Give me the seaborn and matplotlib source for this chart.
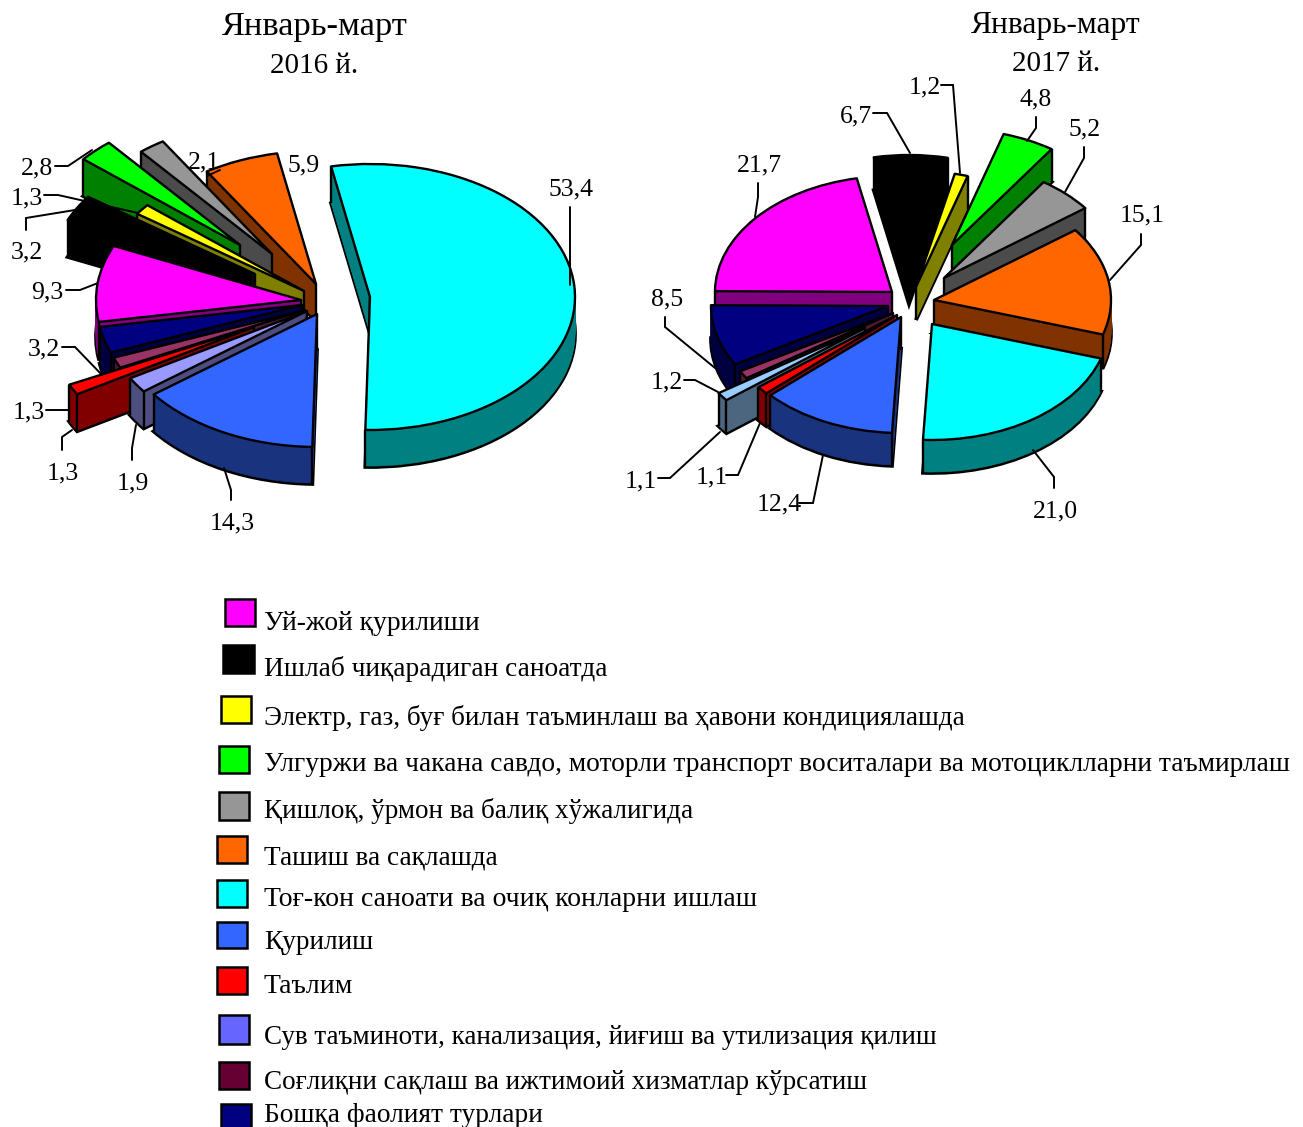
import matplotlib
matplotlib.use("Agg")
import matplotlib.pyplot as plt
import numpy as np
import seaborn as sns
from matplotlib.patches import Rectangle

W, H = 1303, 1127
sns.set_theme(style="white")
plt.rcParams['font.family'] = ['Liberation Serif', 'DejaVu Serif']

# ---- data -------------------------------------------------------------
values_2016 = [9.3, 3.2, 1.3, 2.8, 2.1, 5.9, 53.4, 14.3, 1.9, 1.3, 1.3, 3.2]
values_2017 = [21.7, 6.7, 1.2, 4.8, 5.2, 15.1, 21.0, 12.4, 1.1, 1.2, 1.1, 8.5]
top_2016 = ['#FF00FF', '#000000', '#FFFF00', '#00FF00', '#969696', '#FF6600', '#00FFFF', '#3366FF', '#9999FF', '#FF0000', '#993366', '#000080']
side_2016 = ['#800080', '#000000', '#808000', '#008000', '#4B4B4B', '#803300', '#008080', '#1A337F', '#4D4D80', '#800000', '#4D1A33', '#000040']
top_2017 = ['#FF00FF', '#000000', '#FFFF00', '#00FF00', '#969696', '#FF6600', '#00FFFF', '#3366FF', '#FF0000', '#99CCFF', '#993366', '#000080']
side_2017 = ['#800080', '#000000', '#808000', '#008000', '#4B4B4B', '#803300', '#008080', '#1A337F', '#800000', '#4D6680', '#4D1A33', '#000040']

legend_labels = ['Уй-жой қурилиши', 'Ишлаб чиқарадиган саноатда',
                 'Электр, газ, буғ билан таъминлаш ва ҳавони кондициялашда',
                 'Улгуржи ва чакана савдо, моторли транспорт воситалари ва мотоциклларни таъмирлаш',
                 'Қишлоқ, ўрмон ва балиқ хўжалигида', 'Ташиш ва сақлашда',
                 'Тоғ-кон саноати ва очиқ конларни ишлаш', 'Қурилиш', 'Таълим',
                 'Сув таъминоти, канализация, йиғиш ва утилизация қилиш',
                 'Соғлиқни сақлаш ва ижтимоий хизматлар кўрсатиш', 'Бошқа фаолият турлари']
legend_colors = ['#FF00FF', '#000000', '#FFFF00', '#00FF00', '#969696', '#FF6600',
                 '#00FFFF', '#3366FF', '#FF0000', '#6666FF', '#660033', '#000080']
legend_sizes = [19.9, 19.7, 19.55, 19.85, 19.5, 19.6, 19.95, 19.6, 19.95, 19.45, 19.55, 19.7]

# ---- layout (pixels) ---------------------------------------------------
tips_2016 = [(301, 300), (255, 274), (304, 291), (240, 245), (272, 254), (316, 284),
             (370, 297), (317, 314), (307, 311), (254, 327), (305, 310), (302, 305)]
order_2016 = [5, 4, 3, 2, 1, 0, 11, 10, 9, 8, 7, 6]
tips_2017 = [(892, 292), (909, 271), (916, 287), (952, 245), (944, 278), (934, 300),
             (932, 324), (901, 317), (897, 315), (865, 328), (893, 313), (888, 306)]
order_2017 = [1, 2, 3, 4, 5, 6, 0, 11, 10, 9, 8, 7]

legend_boxes = [(225, 599, 30, 27), (223, 645, 31, 28), (221, 696, 30, 27), (219, 746, 30, 27),
                (219, 792, 30, 28), (217, 836, 30, 27), (217, 880, 30, 27), (217, 922, 30, 26),
                (217, 967, 30, 27), (219, 1015, 30, 29), (219, 1062, 30, 27), (221, 1104, 30, 30)]
legend_base = [630, 676, 725, 771, 818, 864, 906, 949, 993, 1044, 1089, 1122]

labels = [('53,4', 571, 195), ('5,9', 304, 171), ('2,1', 204, 168), ('2,8', 37, 174), ('1,3', 27, 204),
          ('3,2', 27, 258), ('9,3', 47, 298), ('3,2', 44, 355), ('1,3', 29, 418), ('1,3', 63, 479),
          ('1,9', 133, 489), ('14,3', 232, 529),
          ('21,7', 759, 171), ('6,7', 856, 122), ('1,2', 925, 93), ('4,8', 1036, 105), ('5,2', 1085, 135),
          ('15,1', 1142, 221), ('21,0', 1055, 517), ('12,4', 779, 510), ('1,1', 641, 487), ('1,1', 712, 483),
          ('1,2', 667, 388), ('8,5', 667, 305)]
leaders = [[(570, 207), (570, 285)], [(220, 170), (207, 176)], [(55, 166), (68, 166), (92, 150)],
           [(44, 195), (58, 195), (138, 213)], [(26, 230), (26, 218), (75, 210)],
           [(66, 290), (80, 290), (98, 283)], [(62, 347), (75, 347), (102, 375)],
           [(46, 410), (68, 410)], [(62, 450), (62, 437), (72, 430)],
           [(132, 460), (132, 448), (136, 425)], [(231, 500), (231, 490), (224, 468)],
           [(758, 183), (758, 197), (755, 217)], [(873, 113), (887, 113), (910, 153)],
           [(941, 85), (953, 85), (960, 173)], [(1036, 117), (1036, 128), (1027, 141)],
           [(1084, 147), (1084, 158), (1065, 192)], [(1141, 234), (1141, 245), (1110, 280)],
           [(1054, 488), (1054, 477), (1033, 450)], [(799, 503), (813, 503), (823, 455)],
           [(658, 478), (670, 478), (720, 432)], [(726, 475), (738, 475), (760, 423)],
           [(684, 380), (695, 380), (718, 392)], [(665, 317), (665, 327), (715, 368)]]
LW = 1.7

fig = plt.figure(figsize=(W / 100, H / 100), dpi=100, facecolor='white')


def extruded_pie(values, tops, sides, tips, order, start, rx, ry, depth):
    ax = fig.add_axes([0, 0, 1, 1], facecolor='none')
    ax.axis('off')
    rank = {s: i for i, s in enumerate(order)}

    def to_data(px, py):
        return px / rx, (H - py) / ry

    # extrusion: one pie per pixel of depth, bottom layer first
    for d in range(depth, 0, -1):
        wedges, _ = ax.pie(values, startangle=start, counterclock=False, colors=sides,
                           normalize=True)
        for i, w in enumerate(wedges):
            w.set_center(to_data(tips[i][0], tips[i][1] + d))
            w.set_zorder(10 + rank[i] * 10 + (depth - d) * 0.01)
            if d == depth:
                w.set_edgecolor('black')
                w.set_linewidth(LW + 1.0)
            else:
                w.set_edgecolor(sides[i])
                w.set_linewidth(0.5)
    # top faces and the visible vertical edges below them
    wedges, _ = ax.pie(values, startangle=start, counterclock=False, colors=tops, normalize=True)
    for i, w in enumerate(wedges):
        cx, cy = to_data(*tips[i])
        w.set_center((cx, cy))
        w.set_zorder(10 + rank[i] * 10 + 5)
        w.set_edgecolor('black')
        w.set_linewidth(LW)
        w.set_joinstyle('round')
        t1, t2 = np.radians(w.theta1), np.radians(w.theta2)
        corners = []
        if np.cos(t1) > 0 or np.cos(t2) < 0:
            corners.append((cx, cy))
        if np.cos(t1) > 0 or np.sin(t1) < 0:
            corners.append((cx + np.cos(t1), cy + np.sin(t1)))
        if np.cos(t2) < 0 or np.sin(t2) < 0:
            corners.append((cx + np.cos(t2), cy + np.sin(t2)))
        for x0, y0 in corners:
            ax.plot([x0, x0], [y0, y0 - depth / ry], color='black', lw=LW,
                    zorder=10 + rank[i] * 10 + 4, solid_capstyle='butt')
    ax.set_aspect('auto')
    ax.set_xlim(0, W / rx)
    ax.set_ylim(0, H / ry)
    return ax


extruded_pie(values_2016, top_2016, side_2016, tips_2016, order_2016, 189.5, 205, 133, 37)
extruded_pie(values_2017, top_2017, side_2017, tips_2017, order_2017, 179.6, 177, 116, 33)

ov = fig.add_axes([0, 0, 1, 1], facecolor='none')
ov.set_xlim(0, W)
ov.set_ylim(H, 0)
ov.set_xticks([])
ov.set_yticks([])
sns.despine(ax=ov, left=True, bottom=True)

for txt, x, y, fs in [('Январь-март', 314.5, 35, 24.8), ('2016 й.', 314.5, 73, 21),
                      ('Январь-март', 1056, 33, 22.7), ('2017 й.', 1056, 71, 21)]:
    ov.text(x, y, txt, ha='center', va='baseline', fontsize=fs, color='black')

for txt, x, y in labels:
    ov.text(x, y, txt, ha='center', va='baseline', fontsize=18.5, color='black')
for seg in leaders:
    xs, ys = zip(*seg)
    ov.plot(xs, ys, color='black', lw=1.4, solid_joinstyle='miter')

for (x, y, w, h), col, txt, base, fs in zip(legend_boxes, legend_colors, legend_labels, legend_base, legend_sizes):
    ov.add_patch(Rectangle((x, y), w, h, facecolor=col, edgecolor='black', lw=1.8))
    ov.text(264, base, txt, ha='left', va='baseline', fontsize=fs, color='black')

fig.savefig('out.png', dpi=100, facecolor='white')
